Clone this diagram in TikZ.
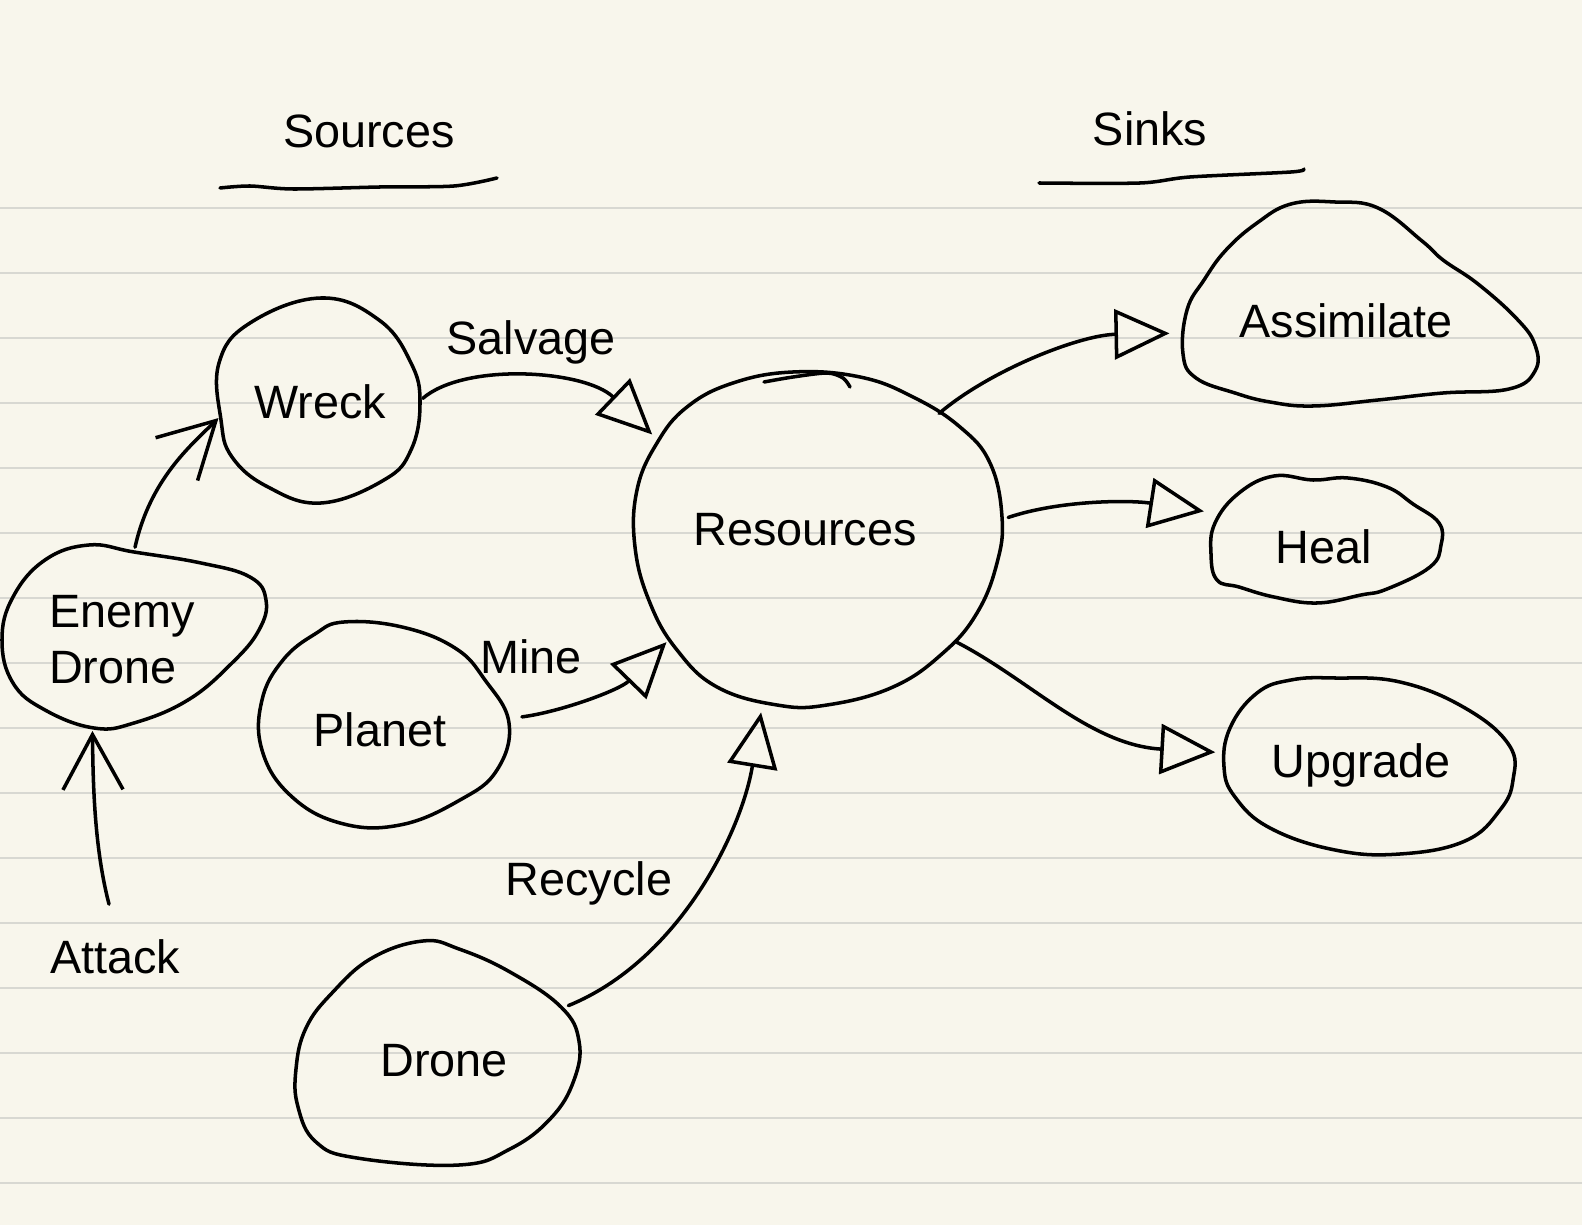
\documentclass[tikz,border=0pt]{standalone}
\usepackage{fontspec}
\setmainfont{Liberation Sans}
\usetikzlibrary{arrows.meta,shapes.geometric}
\definecolor{paper}{RGB}{248,246,236}
\definecolor{ruling}{RGB}{216,216,210}

\begin{document}
\begin{tikzpicture}[x=0.01cm,y=-0.01cm,line cap=round,line join=round,
    every node/.style={font=\fontsize{13.3}{15.9}\selectfont}]
  \tikzstyle{pen} = [draw=black,line width=1pt]
  \tikzstyle{blob} = [ellipse,inner sep=0pt,align=left]
  \tikzstyle{tri} = [pen,-{Triangle[open,length=5.5mm,width=5mm]}]
  \tikzstyle{barb} = [pen,-{Straight Barb[length=5.5mm,width=6mm]}]

  % lined paper
  \useasboundingbox (0,0) rectangle (1582,1225);
  \fill[paper] (0,0) rectangle (1582,1225);
  \foreach \y in {208,273,...,1183} {
    \draw[ruling,line width=0.8pt,line cap=butt] (0,\y) -- (1582,\y);
  }

  \foreach \l/\x/\y/\w/\h/\t in {wreck/320/402/2.04/2.05/Wreck,
    enemy/122/640/2.65/1.85/{Enemy\\Drone}, planet/380/730/2.5/2.05/Planet,
    drone/444/1061/2.84/2.24/Drone, res/805/530/3.69/3.36/Resources,
    assim/1346/321/3.54/2.05/Assimilate, heal/1324/547/2.32/1.26/Heal,
    upgrade/1361/765/2.93/1.77/Upgrade} {
    \node[blob,minimum width=\w cm,minimum height=\h cm] (\l) at (\x,\y) {\t};
  }
  \foreach \l/\x/\y/\t in {sources/369/131/Sources, sinks/1150/129/Sinks,
    salvage/531/342/Salvage, mine/531/657/Mine, recycle/589/883/Recycle,
    attack/115/957/Attack} {
    \node (\l) at (\x,\y) {\t};
  }

  % underlines
  \draw[pen] plot[smooth] coordinates {(220,188) (250,186) (293,189) (380,187) (454,186) (497,178)};
  \draw[pen] plot[smooth] coordinates {(1039,183) (1140,183) (1190,177) (1291,172) (1304,169)};

  % outlines
  \begin{scope}[smooth cycle,tension=0.7]
  \draw[pen] plot[smooth cycle] coordinates {(321,298) (379,320) (411,363) (420,403)
    (411,450) (384,480) (321,503) (268,487) (232,457) (221,420) (219,363) (250,323)};
  \draw[pen] plot[smooth cycle] coordinates {(89,545) (134,552) (201,563) (250,577)
    (266,600) (259,630) (232,663) (188,700) (134,723) (94,728) (45,710) (13,683)
    (2,640) (13,597) (45,560)};
  \draw[pen] plot[smooth cycle] coordinates {(344,622) (402,627) (455,648) (485,680)
    (509,723) (497,770) (460,800) (400,825) (340,823) (290,795) (262,750) (262,700)
    (283,660) (315,634)};
  \draw[pen] plot[smooth cycle] coordinates {(423,941) (459,949) (510,972) (561,1007)
    (579,1041) (574,1080) (551,1118) (510,1149) (459,1165) (357,1158) (316,1142)
    (298,1107) (296,1069) (306,1028) (332,993) (372,958)};
  \draw[pen] plot[smooth cycle] coordinates {(793,372) (860,377) (913,397) (960,427)
    (990,463) (1002,517) (997,563) (977,613) (943,653) (893,687) (827,705) (777,705)
    (717,687) (677,650) (650,603) (635,547) (637,490) (657,443) (687,407) (733,383)};
  \draw[pen] plot[smooth cycle] coordinates {(1291,204) (1335,202) (1378,208) (1422,241)
    (1443,260) (1478,284) (1517,319) (1535,345) (1535,371) (1509,389) (1443,393)
    (1378,400) (1313,406) (1270,402) (1235,393) (1196,378) (1183,354) (1187,310)
    (1204,280) (1226,250) (1257,223)};
  \draw[pen] plot[smooth cycle] coordinates {(1274,476) (1313,480) (1348,478) (1387,487)
    (1413,504) (1439,523) (1441,545) (1430,567) (1387,589) (1361,595) (1317,603)
    (1274,597) (1239,587) (1217,580) (1211,554) (1215,523) (1239,493)};
  \draw[pen] plot[smooth cycle] coordinates {(1335,678) (1400,682) (1465,708) (1509,745)
    (1513,780) (1500,810) (1465,841) (1400,854) (1335,850) (1270,828) (1235,797)
    (1224,767) (1230,728) (1257,693) (1291,680)};
  \end{scope}
  \draw[pen] plot[smooth] coordinates {(764,382) (793,377) (827,373) (843,378) (850,387)};

  % flows
  \draw[tri] (wreck.2) .. controls (465,362) and (585,370) .. (res.148);
  \draw[tri,shorten <=1.7mm] (planet.5) .. controls (560,712) and (620,690) .. (res.219);
  \draw[tri,shorten >=1.8mm] (drone.24) .. controls (680,960) and (742,830) .. (res.256);
  \draw[barb] (enemy.82) .. controls (150,480) and (190,446) .. (wreck.189);
  \draw[barb,shorten <=2.4mm] (attack.north) .. controls (95,850) and (93,790) .. (enemy.252);
  \draw[tri] (res.41) .. controls (990,370) and (1080,335) .. (assim.184);
  \draw[tri,shorten <=1.9mm,shorten >=2mm] (res.2) .. controls (1060,500) and (1130,500) .. (heal.162);
  \draw[tri,shorten <=1mm] (res.323) .. controls (1030,680) and (1090,745) .. (upgrade.175);
\end{tikzpicture}
\end{document}
